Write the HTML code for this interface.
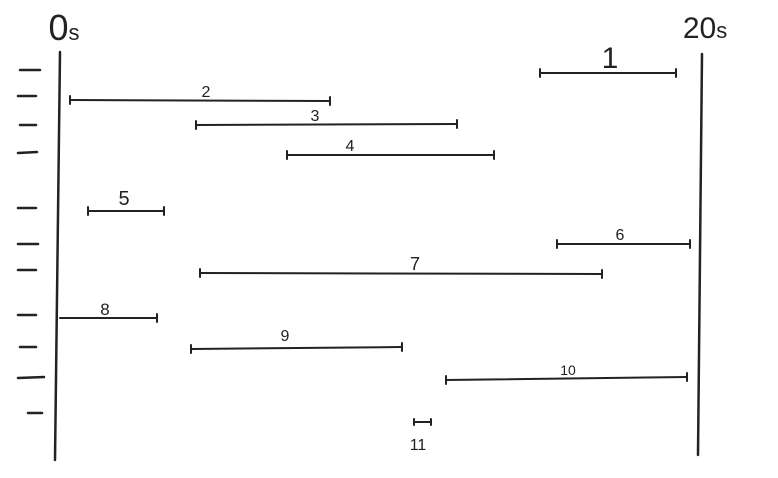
<!DOCTYPE html>
<html><head><style>html,body{margin:0;padding:0;background:#fff;width:778px;height:478px;overflow:hidden}</style></head>
<body>
<svg width="778" height="478" xmlns="http://www.w3.org/2000/svg" style="font-family:'Liberation Sans',sans-serif" stroke="#222" stroke-linecap="round" fill="none">
<line x1="60" y1="52" x2="55" y2="460" stroke-width="2.5"/>
<line x1="702" y1="54" x2="698" y2="455" stroke-width="2.5"/>
<g stroke-width="2.5">
<line x1="20" y1="70" x2="40" y2="70"/><line x1="18" y1="96" x2="36" y2="96"/><line x1="20" y1="125" x2="36" y2="125"/><line x1="18" y1="153" x2="37" y2="152"/><line x1="18" y1="208" x2="36" y2="208"/><line x1="18" y1="244" x2="38" y2="244"/><line x1="18" y1="270" x2="36" y2="270"/><line x1="18" y1="315" x2="36" y2="315"/><line x1="20" y1="347" x2="36" y2="347"/><line x1="18" y1="378" x2="44" y2="377"/><line x1="28" y1="413" x2="42" y2="413"/>
</g>
<g stroke-width="2">
<line x1="540" y1="73" x2="676" y2="73"/><line x1="540" y1="69" x2="540" y2="77"/><line x1="676" y1="69" x2="676" y2="77"/>
<line x1="70" y1="100" x2="330" y2="101"/><line x1="70" y1="96" x2="70" y2="104"/><line x1="330" y1="97" x2="330" y2="105"/>
<line x1="196" y1="125" x2="457" y2="124"/><line x1="196" y1="121" x2="196" y2="129"/><line x1="457" y1="120" x2="457" y2="128"/>
<line x1="287" y1="155" x2="494" y2="155"/><line x1="287" y1="151" x2="287" y2="159"/><line x1="494" y1="151" x2="494" y2="159"/>
<line x1="88" y1="211" x2="164" y2="211"/><line x1="88" y1="207" x2="88" y2="215"/><line x1="164" y1="207" x2="164" y2="215"/>
<line x1="557" y1="244" x2="690" y2="244"/><line x1="557" y1="240" x2="557" y2="248"/><line x1="690" y1="240" x2="690" y2="248"/>
<line x1="200" y1="273" x2="602" y2="274"/><line x1="200" y1="269" x2="200" y2="277"/><line x1="602" y1="270" x2="602" y2="278"/>
<line x1="60" y1="318" x2="157" y2="318"/><line x1="157" y1="314" x2="157" y2="322"/>
<line x1="191" y1="349" x2="402" y2="347"/><line x1="191" y1="345" x2="191" y2="353"/><line x1="402" y1="343" x2="402" y2="351"/>
<line x1="446" y1="380" x2="687" y2="377"/><line x1="446" y1="376" x2="446" y2="384"/><line x1="687" y1="373" x2="687" y2="381"/>
<line x1="414" y1="422" x2="431" y2="422"/><line x1="414" y1="419" x2="414" y2="425"/><line x1="431" y1="419" x2="431" y2="425"/>
</g>
<g fill="#222" stroke="none" text-anchor="middle">
<text x="64" y="40" font-size="36">0<tspan font-size="22">s</tspan></text>
<text x="705" y="38" font-size="30">20<tspan font-size="22">s</tspan></text>
<text x="610" y="68" font-size="30">1</text>
<text x="206" y="97" font-size="16">2</text>
<text x="315" y="121" font-size="16">3</text>
<text x="350" y="151" font-size="16">4</text>
<text x="124" y="205" font-size="20">5</text>
<text x="620" y="240" font-size="16">6</text>
<text x="415" y="270" font-size="18">7</text>
<text x="105" y="315" font-size="17">8</text>
<text x="285" y="341" font-size="16">9</text>
<text x="568" y="375" font-size="14">10</text>
<text x="418" y="450" font-size="16">11</text>
</g>
</svg>
</body></html>
